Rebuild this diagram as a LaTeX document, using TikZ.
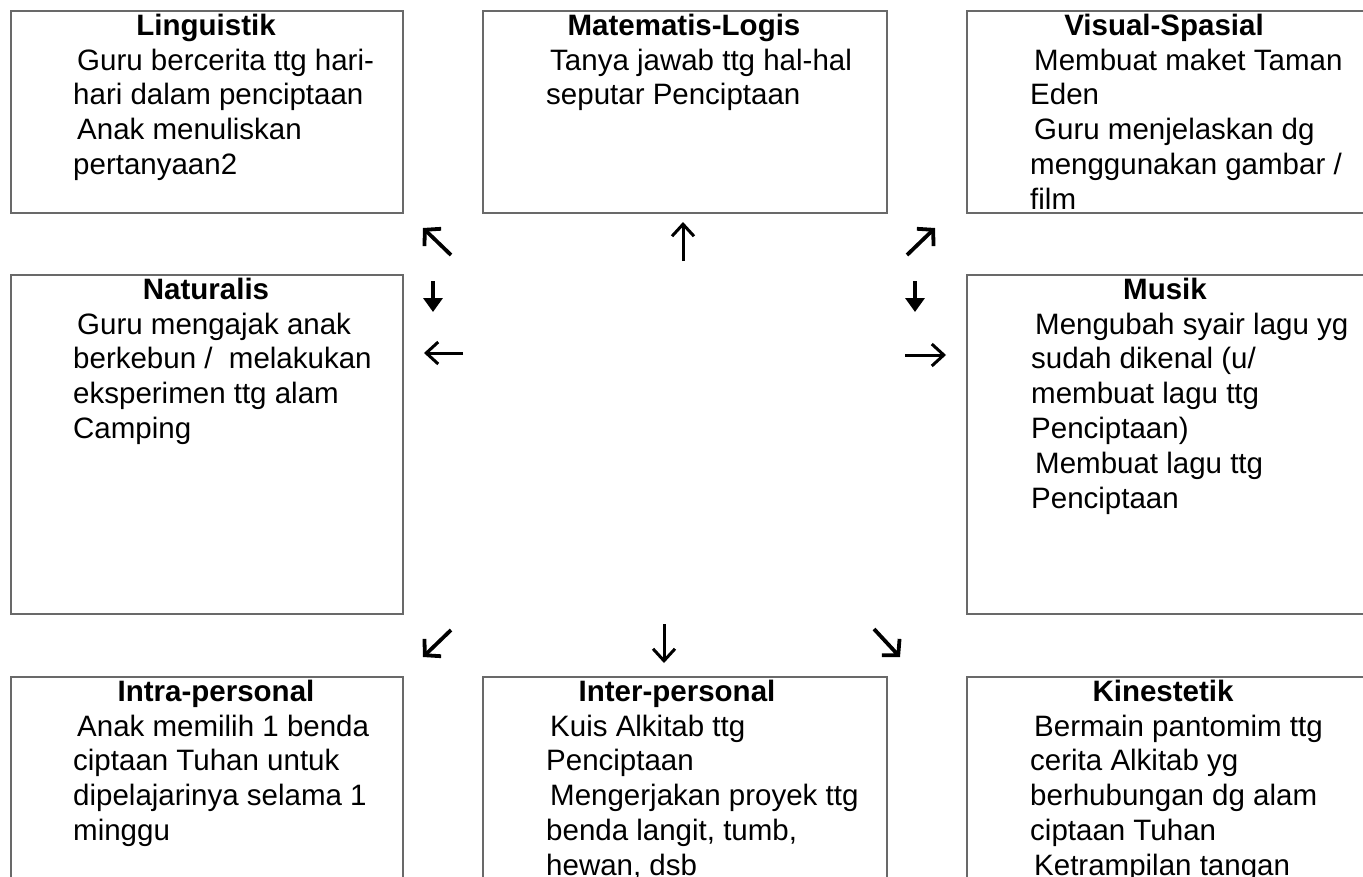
\documentclass[tikz,border=0pt]{standalone}
\usepackage{fontspec}
\setmainfont{Liberation Sans}
\usetikzlibrary{arrows.meta}
\definecolor{boxgray}{RGB}{105,105,105}
\newcommand\bxline[1]{\hbox{#1}}
\newcommand\bxitem[1]{\hbox{\kern4pt #1}}
\newcommand\bxbody[1]{\vtop{\baselineskip=34.8pt #1}}
\begin{document}
\begin{tikzpicture}[x=1pt,y=-1pt,
  boxnode/.style={draw=boxgray, line width=2pt, anchor=north west, inner sep=0pt},
  titletext/.style={anchor=base, inner sep=0pt, font=\fontsize{29.5pt}{34.8pt}\selectfont\bfseries},
  bodytext/.style={anchor=base west, inner sep=0pt, font=\fontsize{29.5pt}{34.8pt}\selectfont},
  diagarrow/.style={line width=3.8pt, -{Straight Barb[length=11pt,width=24pt]}},
  fillarrow/.style={line width=3.4pt, -{Triangle[length=14pt,width=19pt]}},
  openarrow/.style={line width=3pt, -{Straight Barb[length=12pt,width=22pt]}}]
\useasboundingbox (0,0) rectangle (1363,876);
% boxes
\node[boxnode, minimum width=392pt, minimum height=202pt] (b1) at (10,10) {};
\node[boxnode, minimum width=404pt, minimum height=202pt] (b2) at (482,10) {};
\node[boxnode, minimum width=404pt, minimum height=202pt] (b3) at (966,10) {};
\node[boxnode, minimum width=392pt, minimum height=339pt] (b4) at (10,274) {};
\node[boxnode, minimum width=404pt, minimum height=339pt] (b5) at (966,274) {};
\node[boxnode, minimum width=392pt, minimum height=214pt] (b6) at (10,676) {};
\node[boxnode, minimum width=404pt, minimum height=214pt] (b7) at (482,676) {};
\node[boxnode, minimum width=404pt, minimum height=214pt] (b8) at (966,676) {};
% titles
\node[titletext] (t1) at (206,35) {Linguistik};
\node[titletext] (t2) at (684,35) {Matematis-Logis};
\node[titletext] (t3) at (1164,35) {Visual-Spasial};
\node[titletext] (t4) at (206,299) {Naturalis};
\node[titletext] (t5) at (1165,299) {Musik};
\node[titletext] (t6) at (216,701) {Intra-personal};
\node[titletext] (t7) at (677,701) {Inter-personal};
\node[titletext] (t8) at (1163,701) {Kinestetik};
% bodies
\node[bodytext] (c1) at (73,70) {\bxbody{\bxitem{Guru bercerita ttg hari-}\bxline{hari dalam penciptaan}\bxitem{Anak menuliskan}\bxline{pertanyaan2}}};
\node[bodytext] (c2) at (546,70) {\bxbody{\bxitem{Tanya jawab ttg hal-hal}\bxline{seputar Penciptaan}}};
\node[bodytext] (c3) at (1030,70) {\bxbody{\bxitem{Membuat maket Taman}\bxline{Eden}\bxitem{Guru menjelaskan dg}\bxline{menggunakan gambar /}\bxline{film}}};
\node[bodytext] (c4) at (73,334) {\bxbody{\bxitem{Guru mengajak anak}\bxline{berkebun /\ \ melakukan}\bxline{eksperimen ttg alam}\bxline{Camping}}};
\node[bodytext] (c5) at (1031,334) {\bxbody{\bxitem{Mengubah syair lagu yg}\bxline{sudah dikenal (u/}\bxline{membuat lagu ttg}\bxline{Penciptaan)}\bxitem{Membuat lagu ttg}\bxline{Penciptaan}}};
\node[bodytext] (c6) at (73,736) {\bxbody{\bxitem{Anak memilih 1 benda}\bxline{ciptaan Tuhan untuk}\bxline{dipelajarinya selama 1}\bxline{minggu}}};
\node[bodytext] (c7) at (546,736) {\bxbody{\bxitem{Kuis Alkitab ttg}\bxline{Penciptaan}\bxitem{Mengerjakan proyek ttg}\bxline{benda langit, tumb,}\bxline{hewan, dsb}}};
\node[bodytext] (c8) at (1030,736) {\bxbody{\bxitem{Bermain pantomim ttg}\bxline{cerita Alkitab yg}\bxline{berhubungan dg alam}\bxline{ciptaan Tuhan}\bxitem{Ketrampilan tangan}}};
% arrow coordinates
\coordinate (a1s) at (451,255); \coordinate (a1e) at (423,228);
\coordinate (a2s) at (433,281); \coordinate (a2e) at (433,312);
\coordinate (a3s) at (463,353); \coordinate (a3e) at (424,353);
\coordinate (a4s) at (683,261); \coordinate (a4e) at (683,222);
\coordinate (a5s) at (907,255); \coordinate (a5e) at (935,228);
\coordinate (a6s) at (915,281); \coordinate (a6e) at (915,312);
\coordinate (a7s) at (905,355); \coordinate (a7e) at (946,355);
\coordinate (a8s) at (451,630); \coordinate (a8e) at (423,657);
\coordinate (a9s) at (664,624); \coordinate (a9e) at (664,663);
\coordinate (a10s) at (874,629); \coordinate (a10e) at (900,657);
% arrows
\draw[diagarrow] (a1s) -- (a1e);
\draw[fillarrow] (a2s) -- (a2e);
\draw[openarrow] (a3s) -- (a3e);
\draw[openarrow] (a4s) -- (a4e);
\draw[diagarrow] (a5s) -- (a5e);
\draw[fillarrow] (a6s) -- (a6e);
\draw[openarrow] (a7s) -- (a7e);
\draw[diagarrow] (a8s) -- (a8e);
\draw[openarrow] (a9s) -- (a9e);
\draw[diagarrow] (a10s) -- (a10e);
\end{tikzpicture}
\end{document}
